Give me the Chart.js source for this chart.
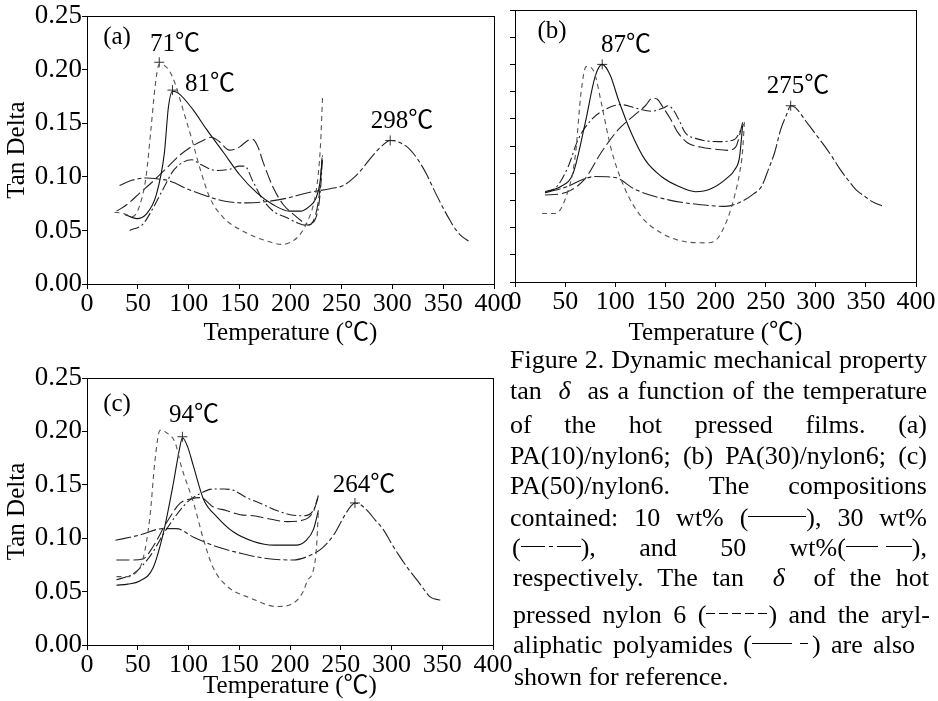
<!DOCTYPE html>
<html><head><meta charset="utf-8">
<script src="https://cdn.jsdelivr.net/npm/chart.js@4.4.1/dist/chart.umd.min.js"></script>
<style>
html,body{margin:0;padding:0;background:#fff;}
#wrap{position:relative;width:938px;height:701px;overflow:hidden;font-family:'Liberation Serif','Noto Sans CJK SC',serif;color:#000;}
canvas{position:absolute;left:0;top:0;}
.ann{position:absolute;transform:translate(-50%,-50%);font-size:25px;white-space:nowrap;line-height:1;}
.cap{position:absolute;left:510px;width:417px;font-size:26px;line-height:28px;height:28px;text-align:justify;text-align-last:justify;white-space:nowrap;}
.cap.last{text-align:left;text-align-last:left;}
.ls{display:inline-block;height:1.5px;position:relative;top:-9px;}
.solid{width:58px;background:#000;}
.dashdot{width:60px;background:linear-gradient(90deg,#000 0 40%,transparent 40% 47%,#000 47% 53%,transparent 53% 60%,#000 60% 100%);}
.longdash{width:66px;background:linear-gradient(90deg,#000 0 48%,transparent 48% 60%,#000 60% 100%);}
.shortdash{width:62px;background:repeating-linear-gradient(90deg,#000 0 9px,transparent 9px 13px);}
.pa{width:60px;background:linear-gradient(90deg,#000 0 66%,transparent 66% 80%,#000 80% 94%,transparent 94% 100%);}
</style></head>
<body>
<div id="wrap">
<canvas id="ca" width="938" height="701"></canvas>
<canvas id="cb" width="938" height="701"></canvas>
<canvas id="cc" width="938" height="701"></canvas>

<div class="ann" style="left:117px;top:35px">(a)</div>
<div class="ann" style="left:175px;top:42px">71℃</div>
<div class="ann" style="left:210px;top:82px">81℃</div>
<div class="ann" style="left:402px;top:119px">298℃</div>
<div class="ann" style="left:552px;top:29px">(b)</div>
<div class="ann" style="left:626px;top:43px">87℃</div>
<div class="ann" style="left:798px;top:84px">275℃</div>
<div class="ann" style="left:117px;top:402px">(c)</div>
<div class="ann" style="left:194px;top:413px">94℃</div>
<div class="ann" style="left:364px;top:483px">264℃</div>

<div class="cap" style="top:346px">Figure 2. Dynamic mechanical property</div>
<div class="cap" style="top:377px">tan&nbsp; <i>δ</i> &nbsp;as a function of the temperature</div>
<div class="cap" style="top:411px">of the hot pressed films. (a)</div>
<div class="cap" style="top:442px">PA(10)/nylon6; (b) PA(30)/nylon6; (c)</div>
<div class="cap" style="top:472px">PA(50)/nylon6. The compositions</div>
<div class="cap" style="top:504px">contained: 10 wt% (<span class="ls solid"></span>), 30 wt%</div>
<div class="cap" style="top:534px;left:512px;width:415px">(<span class="ls dashdot"></span>), and 50 wt%(<span class="ls longdash"></span>),</div>
<div class="cap" style="top:564px;left:513px;width:416px">respectively. The tan&nbsp; <i>δ</i> &nbsp;of the hot</div>
<div class="cap" style="top:601px;left:513px;width:417px">pressed nylon 6 (<span class="ls shortdash"></span>) and the aryl-</div>
<div class="cap" style="top:631px;left:513px;width:402px">aliphatic polyamides (<span class="ls pa"></span>) are also</div>
<div class="cap last" style="top:663px;left:514px">shown for reference.</div>
</div>

<script>
// ---------- tick values / labels ----------
const xTickValues = [0, 50, 100, 150, 200, 250, 300, 350, 400];
const yTickValues = [0, 0.05, 0.10, 0.15, 0.20, 0.25];
const yTickLabels = ['0.00', '0.05', '0.10', '0.15', '0.20', '0.25'];
const yMinorTickValues = [0, 0.025, 0.05, 0.075, 0.10, 0.125, 0.15, 0.175, 0.20, 0.225, 0.25];

// ---------- panel (a) PA(10)/nylon6 : [temperature °C, tan delta] ----------
const aNylon6 = [[27,0.067],[35,0.066],[45,0.063],[52,0.074],[58,0.100],[63,0.146],[67,0.185],[71,0.205],[76,0.204],[81,0.199],[87,0.186],[94,0.164],[104,0.132],[111,0.108],[121,0.080],[134,0.062],[154,0.049],[177,0.040],[192,0.037],[202,0.040],[210,0.047],[217,0.059],[223,0.076],[227,0.100],[229.5,0.130],[231.5,0.175]];
const aBlend10 = [[37,0.065],[49,0.061],[58,0.065],[68,0.083],[76,0.122],[80,0.165],[84,0.180],[90,0.178],[104,0.163],[117,0.145],[134,0.123],[150,0.102],[167,0.085],[183,0.074],[199,0.068],[210,0.068],[218,0.072],[225,0.080],[229,0.095],[231,0.115]];
const aBlend30 = [[42,0.050],[55,0.056],[65,0.071],[75,0.089],[85,0.106],[95,0.114],[103,0.116],[111,0.112],[127,0.106],[140,0.107],[150,0.110],[155,0.110],[163,0.096],[172,0.080],[183,0.068],[196,0.062],[207,0.057],[214,0.055],[220,0.056],[225,0.062],[228,0.075],[230,0.095],[231.5,0.120]];
const aBlend50 = [[29,0.068],[39,0.074],[52,0.085],[65,0.096],[78,0.108],[91,0.120],[104,0.129],[114,0.134],[122,0.137],[130,0.133],[140,0.125],[150,0.128],[158,0.134],[163,0.135],[168,0.128],[173,0.114],[183,0.090],[193,0.074],[203,0.065],[212,0.058],[217,0.055],[222,0.058],[226,0.070],[229,0.090],[231,0.118]];
const aPA = [[32,0.092],[45,0.097],[58,0.099],[70,0.098],[82,0.096],[98,0.089],[118,0.082],[137,0.077],[157,0.0757],[177,0.077],[196,0.080],[216,0.085],[239,0.089],[252,0.092],[262,0.099],[270,0.107],[280,0.119],[290,0.129],[298,0.134],[305,0.133],[317,0.126],[326,0.115],[334,0.102],[342,0.086],[350,0.071],[357,0.059],[363,0.050],[369,0.044],[375,0.040]];
const aPeaks = [[71,0.207],[84,0.181],[298,0.134]];

// ---------- panel (b) PA(30)/nylon6 ----------
const bNylon6 = [[27,0.063],[40,0.063],[50,0.076],[60,0.115],[66,0.175],[71,0.198],[76,0.197],[80,0.190],[86,0.165],[96,0.122],[110,0.085],[126,0.060],[146,0.045],[170,0.037],[192,0.036],[202,0.040],[212,0.058],[219,0.079],[224,0.100],[227,0.120],[229,0.150]];
const bBlend10 = [[30,0.083],[46,0.088],[58,0.100],[70,0.146],[80,0.189],[87,0.200],[95,0.190],[103,0.168],[116,0.137],[130,0.112],[146,0.097],[163,0.088],[180,0.083],[196,0.086],[212,0.096],[219,0.103],[224,0.115],[227,0.143]];
const bBlend30 = [[30,0.082],[42,0.088],[53,0.106],[63,0.131],[76,0.149],[93,0.160],[106,0.163],[120,0.160],[136,0.157],[148,0.160],[153,0.162],[158,0.158],[163,0.150],[170,0.137],[180,0.132],[203,0.129],[219,0.131],[228,0.145]];
const bBlend50 = [[30,0.080],[45,0.081],[55,0.084],[70,0.095],[86,0.119],[103,0.140],[120,0.154],[130,0.162],[137,0.169],[142,0.168],[148,0.160],[155,0.150],[162,0.138],[172,0.128],[185,0.124],[200,0.122],[212,0.121],[220,0.124],[228,0.150]];
const bPA = [[30,0.082],[53,0.088],[67,0.094],[80,0.097],[100,0.096],[120,0.085],[153,0.0755],[186,0.071],[210,0.0695],[226,0.074],[238,0.081],[246,0.088],[253,0.104],[259,0.119],[265,0.140],[271,0.154],[275,0.162],[280,0.160],[290,0.148],[299,0.137],[308,0.126],[316,0.1155],[324,0.104],[332,0.094],[340,0.085],[349,0.0786],[358,0.073],[366,0.070]];
const bPeaks = [[87,0.200],[275,0.162]];

// ---------- panel (c) PA(50)/nylon6 ----------
const cNylon6 = [[29,0.064],[40,0.064],[46,0.066],[55,0.080],[62,0.120],[67,0.173],[72,0.201],[78,0.199],[87,0.189],[93,0.167],[105,0.133],[115,0.098],[124,0.073],[138,0.055],[161,0.044],[187,0.036],[203,0.039],[213,0.050],[217,0.060],[223,0.070],[226,0.090],[228,0.126]];
const cBlend10 = [[29,0.056],[40,0.057],[52,0.060],[65,0.072],[75,0.104],[85,0.151],[91,0.183],[94,0.194],[99,0.186],[105,0.167],[115,0.136],[128,0.120],[144,0.106],[164,0.097],[184,0.0935],[206,0.0935],[216,0.098],[223,0.108],[228,0.126]];
const cBlend30 = [[29,0.061],[46,0.067],[62,0.083],[78,0.108],[98,0.133],[112,0.142],[124,0.146],[135,0.146],[144,0.145],[157,0.138],[170,0.133],[184,0.127],[200,0.122],[213,0.121],[223,0.126],[228,0.140]];
const cBlend50 = [[29,0.0796],[45,0.0796],[55,0.0805],[65,0.092],[78,0.114],[92,0.133],[103,0.137],[112,0.138],[124,0.1295],[137,0.126],[151,0.122],[164,0.121],[177,0.1186],[197,0.1155],[213,0.117],[223,0.125],[228,0.139]];
const cPA = [[28,0.098],[52,0.103],[75,0.109],[88,0.109],[105,0.101],[128,0.092],[151,0.086],[177,0.081],[203,0.0796],[220,0.084],[232,0.091],[243,0.103],[253,0.120],[260,0.130],[264,0.133],[270,0.131],[276,0.126],[284,0.117],[292,0.108],[300,0.095],[308,0.083],[316,0.072],[325,0.061],[332,0.052],[338,0.045],[343,0.043],[348,0.042]];
const cPeaks = [[94,0.195],[264,0.133]];

// ---------- styles ----------
const FONT = "'Liberation Serif', 'Noto Sans CJK SC', serif";
const styleNylon = {dash:[5,4], color:'#555'};
const style10 = {dash:[], color:'#111'};
const style30 = {dash:[10,3,2,3], color:'#222'};
const style50 = {dash:[13,4], color:'#222'};
const stylePA = {dash:[16,3,4,3], color:'#222'};

const boxPlugin = {
  id:'box',
  afterDraw(chart){
    const {ctx, chartArea:a} = chart;
    ctx.save(); ctx.strokeStyle='#000'; ctx.lineWidth=1;
    ctx.strokeRect(Math.round(a.left)+0.5, Math.round(a.top)+0.5, Math.round(a.right-a.left), Math.round(a.bottom-a.top));
    ctx.restore();
  }
};

function toXY(arr){ return arr.map(p => ({x:p[0], y:p[1]})); }

function makePanel(id, series, peaks, area){
  const datasets = series.map(s => ({
    type:'line', data: toXY(s.pts), borderColor:s.style.color, borderWidth:1.1,
    borderDash:s.style.dash, pointRadius:0, fill:false, cubicInterpolationMode:'monotone'
  }));
  datasets.push({type:'line', data: toXY(peaks), showLine:false, pointStyle:'cross', pointRadius:5,
    borderColor:'#333', borderWidth:1, backgroundColor:'#333'});
  const yW = area.yW;
  new Chart(document.getElementById(id), {
    type:'line',
    data:{datasets},
    plugins:[boxPlugin],
    options:{
      responsive:false, animation:false, events:[],
      layout:{padding:{left:area.left - yW, top:area.top, right:938 - area.right, bottom:701 - area.bottom - area.xH}},
      plugins:{legend:{display:false}, tooltip:{enabled:false}},
      scales:{
        x:{type:'linear', min:0, max:400,
          afterBuildTicks: s => { s.ticks = xTickValues.map(v => ({value:v})); },
          afterFit: s => { s.height = area.xH; },
          grid:{display:true, drawOnChartArea:false, drawTicks:true, tickLength:5, color:'#000'},
          border:{display:true, color:'#000', width:1},
          ticks:{color:'#000', font:{family:FONT, size:26}, padding:0, maxRotation:0, autoSkip:false,
                 callback: v => String(v)},
          title:{display:true, text:'Temperature (℃)', color:'#000', font:{family:FONT, size:25}, padding:0}
        },
        y:{type:'linear', min:0, max:0.25,
          afterBuildTicks: s => { s.ticks = (area.minor ? yMinorTickValues : yTickValues).map(v => ({value:v})); },
          afterFit: s => { s.width = yW; },
          grid:{display:true, drawOnChartArea:false, drawTicks:true, tickLength:5, color:'#000'},
          border:{display:true, color:'#000', width:1},
          ticks:{display:area.yLabels, color:'#000', font:{family:FONT, size:27}, padding:0,
                 callback: (v, i) => yTickLabels[yTickValues.indexOf(v)] ?? ''},
          title:{display:area.yLabels, text:'Tan Delta', color:'#000', font:{family:FONT, size:25}, padding:{top:2,bottom:0}}
        }
      }
    }
  });
}

makePanel('ca', [
  {pts:aNylon6, style:styleNylon}, {pts:aBlend10, style:style10}, {pts:aBlend30, style:style30},
  {pts:aBlend50, style:style50}, {pts:aPA, style:stylePA}
], aPeaks, {left:87, right:494, top:12, bottom:284, xH:64, yW:87, yLabels:true, minor:false});

makePanel('cb', [
  {pts:bNylon6, style:styleNylon}, {pts:bBlend10, style:style10}, {pts:bBlend30, style:style30},
  {pts:bBlend50, style:style50}, {pts:bPA, style:stylePA}
], bPeaks, {left:515, right:916, top:10, bottom:282, xH:66, yW:10, yLabels:false, minor:true});

makePanel('cc', [
  {pts:cNylon6, style:styleNylon}, {pts:cBlend10, style:style10}, {pts:cBlend30, style:style30},
  {pts:cBlend50, style:style50}, {pts:cPA, style:stylePA}
], cPeaks, {left:87, right:493, top:378, bottom:645, xH:56, yW:87, yLabels:true, minor:false});
</script>
</body></html>
